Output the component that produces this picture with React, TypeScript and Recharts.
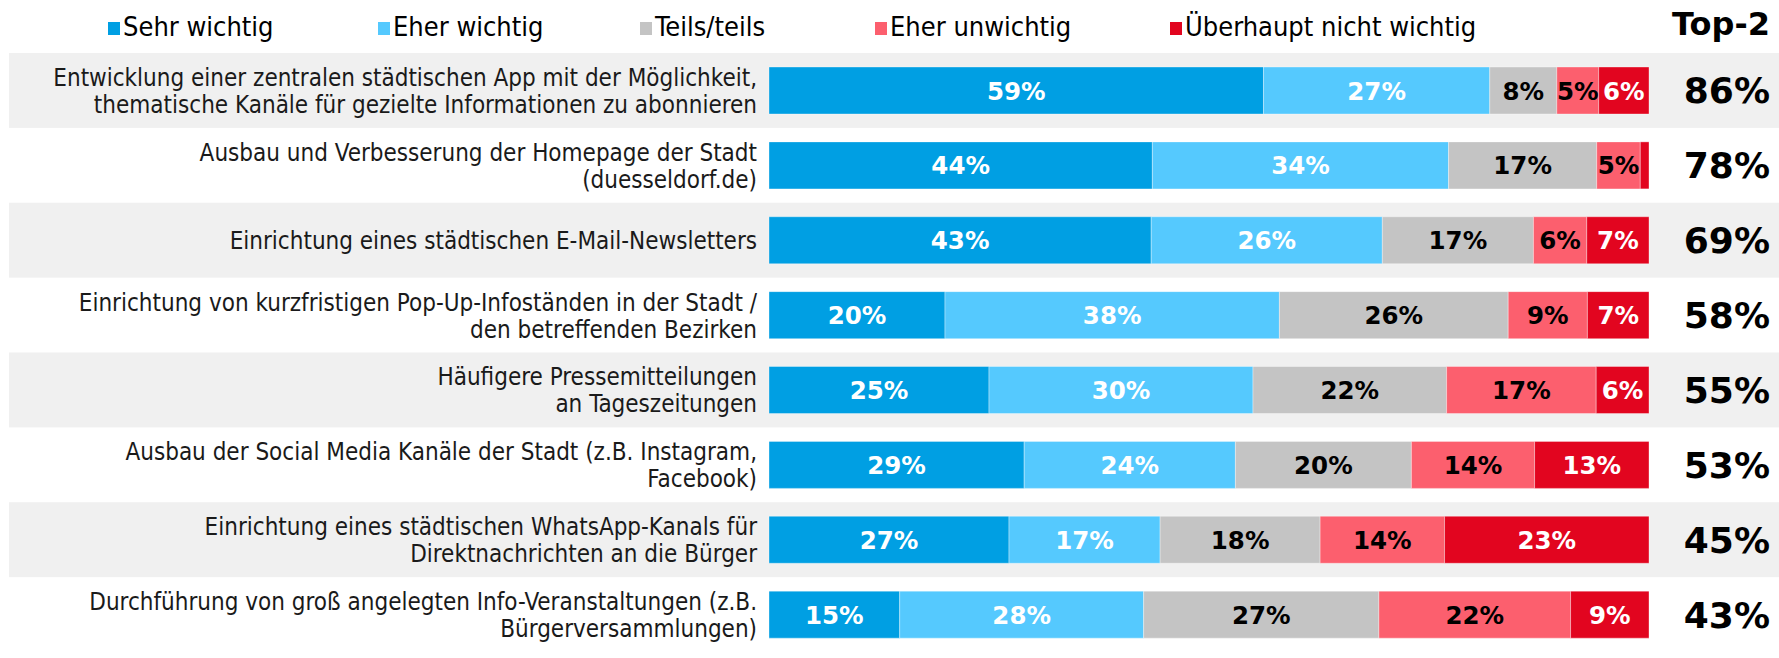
import { BarChart, Bar, XAxis, YAxis, Legend, LabelList, ReferenceArea } from "recharts";

const categories = [
  "Entwicklung einer zentralen städtischen App mit der Möglichkeit,\nthematische Kanäle für gezielte Informationen zu abonnieren",
  "Ausbau und Verbesserung der Homepage der Stadt\n(duesseldorf.de)",
  "Einrichtung eines städtischen E-Mail-Newsletters",
  "Einrichtung von kurzfristigen Pop-Up-Infoständen in der Stadt /\nden betreffenden Bezirken",
  "Häufigere Pressemitteilungen\nan Tageszeitungen",
  "Ausbau der Social Media Kanäle der Stadt (z.B. Instagram,\nFacebook)",
  "Einrichtung eines städtischen WhatsApp-Kanals für\nDirektnachrichten an die Bürger",
  "Durchführung von groß angelegten Info-Veranstaltungen (z.B.\nBürgerversammlungen)",
];

const sehrWichtig = [59, 44, 43, 20, 25, 29, 27, 15];
const eherWichtig = [27, 34, 26, 38, 30, 24, 17, 28];
const teilsTeils = [8, 17, 17, 26, 22, 20, 18, 27];
const eherUnwichtig = [5, 5, 6, 9, 17, 14, 14, 22];
const ueberhauptNicht = [6, 1, 7, 7, 6, 13, 23, 9];
const top2 = [86, 78, 69, 58, 55, 53, 45, 43];

const series = [
  { key: "sehr", name: "Sehr wichtig", color: "#009fe3", text: "#ffffff", values: sehrWichtig },
  { key: "eher", name: "Eher wichtig", color: "#55c9fe", text: "#ffffff", values: eherWichtig },
  { key: "teils", name: "Teils/teils", color: "#c4c4c4", text: "#000000", values: teilsTeils },
  { key: "unw", name: "Eher unwichtig", color: "#fc5f6e", text: "#000000", values: eherUnwichtig },
  { key: "nicht", name: "Überhaupt nicht wichtig", color: "#e2051f", text: "#ffffff", values: ueberhauptNicht },
];

const data = categories.map((name, i) => {
  const row: Record<string, string | number> = { name, top2: top2[i] };
  series.forEach((s) => (row[s.key] = s.values[i]));
  return row;
});

const legendLeft = [108, 378, 640, 875, 1170];
const W = 1779;
const H = 658;

function LegendContent() {
  return (
    <div style={{ position: "relative", width: W, height: 50 }}>
      {series.map((s, i) => (
        <div
          key={s.key}
          style={{
            position: "absolute",
            left: legendLeft[i],
            top: 11,
            display: "flex",
            alignItems: "center",
            fontFamily: "DejaVu Sans Condensed",
            fontSize: 27,
            color: "#000",
            whiteSpace: "nowrap",
          }}
        >
          <span style={{ display: "inline-block", width: 12, height: 13, background: s.color, marginRight: 3, marginTop: 4 }} />
          {s.name}
        </div>
      ))}
      <div
        style={{
          position: "absolute",
          right: 9,
          top: 5,
          fontFamily: "DejaVu Sans",
          fontWeight: "bold",
          fontSize: 32,
          color: "#000",
        }}
      >
        Top-2
      </div>
    </div>
  );
}

function CategoryTick(props: any) {
  const { x, y, payload } = props;
  const lines = String(payload.value).split("\n");
  const lh = 27;
  const first = y - ((lines.length - 1) * lh) / 2 + 9;
  return (
    <text textAnchor="end" fontFamily="DejaVu Sans Condensed" fontSize={24} fill="#1a1a1a">
      {lines.map((l, i) => (
        <tspan key={i} x={x} y={first + i * lh}>
          {l}
        </tspan>
      ))}
    </text>
  );
}

function Top2Tick(props: any) {
  const { y, payload } = props;
  return (
    <text x={W - 9} y={y + 13} textAnchor="end" fontFamily="DejaVu Sans" fontWeight="bold" fontSize={36} fill="#000">
      {payload.value}%
    </text>
  );
}

const makeLabel = (color: string) => (p: any) => {
  const { x, y, width, height, value } = p;
  if (value < 3) return null;
  return (
    <text
      x={x + width / 2}
      y={y + height / 2 + 9}
      textAnchor="middle"
      fontFamily="DejaVu Sans"
      fontWeight="bold"
      fontSize={24.5}
      fill={color}
    >
      {value}%
    </text>
  );
};

const RowBg = (p: any) => <rect x={9} y={p.y} width={W - 9} height={p.height} fill="#f0f0f0" />;

export default function App() {
  return (
    <div style={{ position: "absolute", left: 0, top: 0, background: "#fff" }}>
      <BarChart
        width={W}
        height={H}
        data={data}
        layout="vertical"
        stackOffset="expand"
        barSize={47}
        margin={{ top: 3, right: 0, bottom: 6, left: 0 }}
      >
        {categories.map((c, i) =>
          i % 2 === 0 ? (
            <ReferenceArea key={i} yAxisId="left" y1={c} y2={c} shape={RowBg} ifOverflow="visible" />
          ) : null
        )}
        <XAxis type="number" hide domain={[0, 1]} />
        <YAxis
          yAxisId="left"
          type="category"
          dataKey="name"
          width={769}
          axisLine={false}
          tickLine={false}
          tickSize={0}
          tickMargin={12}
          interval={0}
          tick={(p: any) => <CategoryTick {...p} />}
        />
        <YAxis
          yAxisId="right"
          orientation="right"
          type="category"
          dataKey="top2"
          width={130}
          axisLine={false}
          tickLine={false}
          interval={0}
          tick={(p: any) => <Top2Tick {...p} />}
        />
        <Legend verticalAlign="top" wrapperStyle={{ top: 0, left: 0, width: W }} content={() => <LegendContent />} />
        {series.map((s) => (
          <Bar
            key={s.key}
            yAxisId="left"
            dataKey={s.key}
            name={s.name}
            stackId="a"
            fill={s.color}
            stroke="rgba(255,255,255,0.35)"
            strokeWidth={1}
            isAnimationActive={false}
          >
            <LabelList dataKey={s.key} content={makeLabel(s.text)} />
          </Bar>
        ))}
      </BarChart>
    </div>
  );
}
